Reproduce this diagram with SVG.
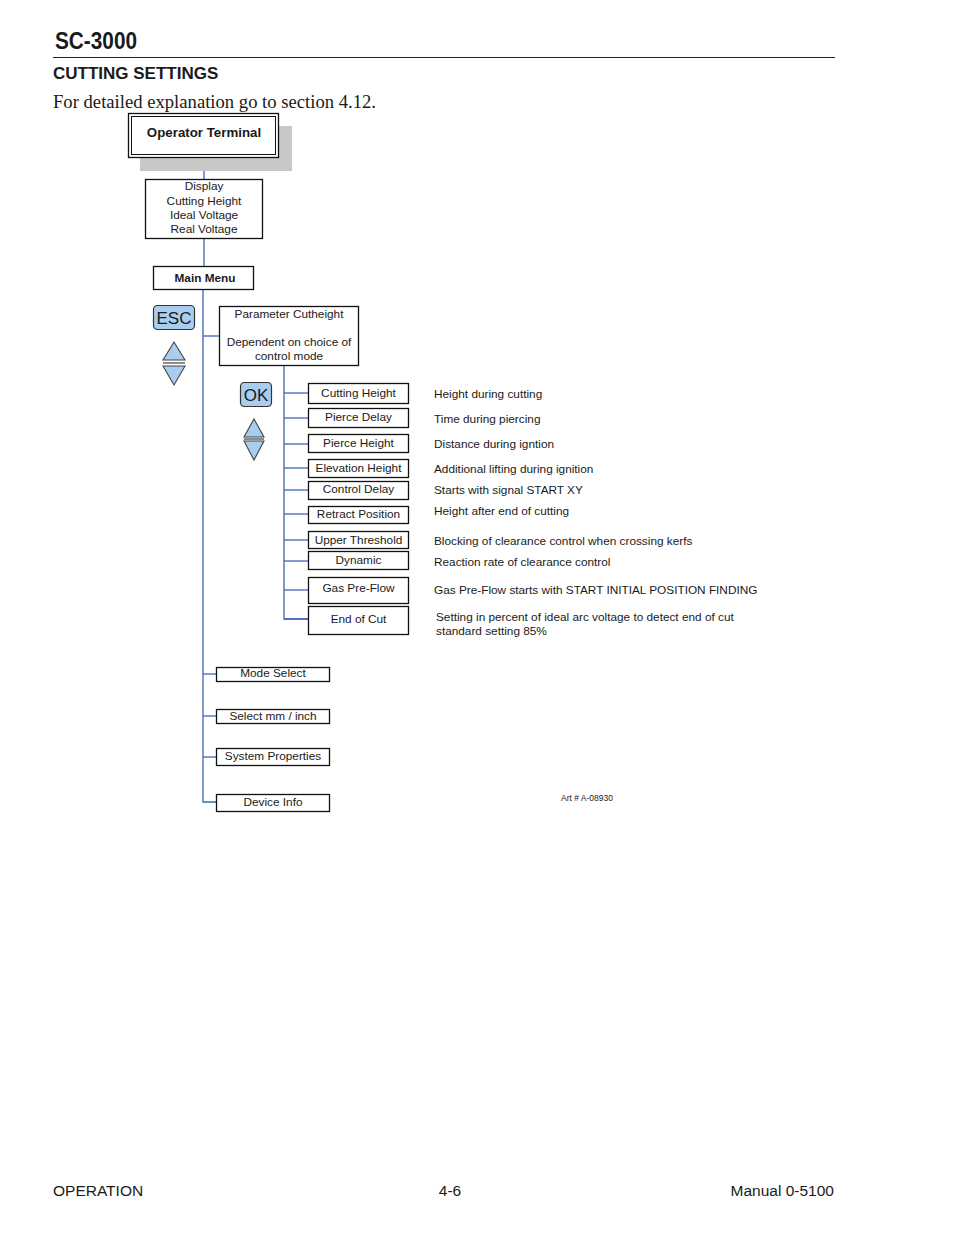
<svg xmlns="http://www.w3.org/2000/svg" width="954" height="1235" viewBox="0 0 954 1235">
<style>
text{font-family:"Liberation Sans",Arial,sans-serif;fill:#1a1a1a}
.box{fill:#fff;stroke:#111;stroke-width:1.3}
.t11{font-size:11.8px}
.c{text-anchor:middle}
.desc{font-size:11.8px}
.conn{stroke:#3d64b5;stroke-width:1.3;fill:none}
.btn{fill:#a9cdef;stroke:#333;stroke-width:1.2}
.tri{fill:#a9cdef;stroke:#444;stroke-width:1.1}
</style>
<rect width="954" height="1235" fill="#fff"/>
<!-- header -->
<text x="55" y="49" font-size="23" font-weight="bold" textLength="82" lengthAdjust="spacingAndGlyphs">SC-3000</text>
<line x1="53" y1="57.5" x2="835" y2="57.5" stroke="#222" stroke-width="1"/>
<text x="53" y="79" font-size="17" font-weight="bold">CUTTING SETTINGS</text>
<text x="53" y="108" font-size="18" style="font-family:'Liberation Serif','Times New Roman',serif" textLength="323" lengthAdjust="spacingAndGlyphs">For detailed explanation go to section 4.12.</text>

<g id="connectors">
<line class="conn" x1="204" y1="157" x2="204" y2="179"/>
<line class="conn" x1="204" y1="238" x2="204" y2="266"/>
<polyline class="conn" points="203,290 203,802 216,802"/>
<line class="conn" x1="203" y1="336" x2="219" y2="336"/>
<line class="conn" x1="203" y1="674" x2="216" y2="674"/>
<line class="conn" x1="203" y1="716" x2="216" y2="716"/>
<line class="conn" x1="203" y1="757" x2="216" y2="757"/>
<polyline class="conn" points="284,365 284,619 308,619" />
<line class="conn" x1="284" y1="393" x2="308" y2="393"/>
<line class="conn" x1="284" y1="418" x2="308" y2="418"/>
<line class="conn" x1="284" y1="444" x2="308" y2="444"/>
<line class="conn" x1="284" y1="468" x2="308" y2="468"/>
<line class="conn" x1="284" y1="490" x2="308" y2="490"/>
<line class="conn" x1="284" y1="514" x2="308" y2="514"/>
<line class="conn" x1="284" y1="540" x2="308" y2="540" stroke-width="2"/>
<line class="conn" x1="284" y1="561" x2="308" y2="561"/>
<line class="conn" x1="284" y1="590" x2="308" y2="590"/>
<line class="conn" x1="284" y1="619" x2="308" y2="619" stroke-width="2"/>
</g>

<g id="operator-terminal">
<rect x="140" y="126" width="152" height="45" fill="#c8c8c8"/>
<rect x="128.5" y="113.5" width="150" height="44" class="box"/>
<rect x="131.5" y="116.5" width="144" height="38" fill="none" stroke="#111" stroke-width="1"/>
<text x="204" y="137" class="c" font-size="13.3" font-weight="bold">Operator Terminal</text>
</g>

<g id="display">
<rect x="145.5" y="179.5" width="117" height="59" class="box"/>
<text x="204" y="190" class="c t11">Display</text>
<text x="204" y="205" class="c t11">Cutting Height</text>
<text x="204" y="219" class="c t11">Ideal Voltage</text>
<text x="204" y="233" class="c t11">Real Voltage</text>
</g>

<g id="main-menu">
<rect x="153.5" y="266.5" width="100" height="23" class="box" stroke-width="2"/>
<text x="205" y="282" class="c t11" font-weight="bold">Main Menu</text>
</g>

<g id="esc-keys">
<rect x="153.5" y="305.5" width="41" height="24" rx="4" class="btn"/>
<text x="174" y="324" class="c" font-size="17">ESC</text>
<polygon points="174,342 185,360 163,360" class="tri"/>
<line x1="163" y1="363" x2="185" y2="363" stroke="#666" stroke-width="1.5"/>
<polygon points="163,366 185,366 174,385" class="tri"/>
</g>

<g id="parameter-cutheight">
<rect x="219.5" y="306.5" width="139" height="59" class="box"/>
<text x="289" y="318" class="c t11">Parameter Cutheight</text>
<text x="289" y="346" class="c t11">Dependent on choice of</text>
<text x="289" y="360" class="c t11">control mode</text>
</g>

<g id="ok-keys">
<rect x="240.5" y="382.5" width="31" height="24" rx="4" class="btn"/>
<text x="256" y="401" class="c" font-size="17">OK</text>
<polygon points="254,419 264,437 244,437" class="tri"/>
<line x1="244" y1="439" x2="264" y2="439" stroke="#666" stroke-width="1.5"/>
<polygon points="244,441 264,441 254,460" class="tri"/>
</g>

<g id="cutting-height"><rect x="308.5" y="383.5" width="100" height="20" class="box"/><text x="358.5" y="397" class="c t11">Cutting Height</text></g>
<g id="pierce-delay"><rect x="308.5" y="408.5" width="100" height="19" class="box"/><text x="358.5" y="421" class="c t11">Pierce Delay</text></g>
<g id="pierce-height"><rect x="308.5" y="434.5" width="100" height="18" class="box"/><text x="358.5" y="447" class="c t11">Pierce Height</text></g>
<g id="elevation-height"><rect x="308.5" y="459.5" width="100" height="18" class="box"/><text x="358.5" y="472" class="c t11">Elevation Height</text></g>
<g id="control-delay"><rect x="308.5" y="481.5" width="100" height="18" class="box"/><text x="358.5" y="493" class="c t11">Control Delay</text></g>
<g id="retract-position"><rect x="308.5" y="506.5" width="100" height="17" class="box"/><text x="358.5" y="518" class="c t11">Retract Position</text></g>
<g id="upper-threshold"><rect x="308.5" y="531.5" width="100" height="17" class="box"/><text x="358.5" y="544" class="c t11">Upper Threshold</text></g>
<g id="dynamic"><rect x="308.5" y="551.5" width="100" height="18" class="box"/><text x="358.5" y="564" class="c t11">Dynamic</text></g>
<g id="gas-pre-flow"><rect x="308.5" y="577.5" width="100" height="26" class="box"/><text x="358.5" y="592" class="c t11">Gas Pre-Flow</text></g>
<g id="end-of-cut"><rect x="308.5" y="606.5" width="100" height="28" class="box"/><text x="358.5" y="623" class="c t11">End of Cut</text></g>

<g id="descriptions">
<text x="434" y="398" class="desc">Height during cutting</text>
<text x="434" y="423" class="desc">Time during piercing</text>
<text x="434" y="448" class="desc">Distance during igntion</text>
<text x="434" y="473" class="desc">Additional lifting during ignition</text>
<text x="434" y="494" class="desc">Starts with signal START XY</text>
<text x="434" y="515" class="desc">Height after end of cutting</text>
<text x="434" y="545" class="desc">Blocking of clearance control when crossing kerfs</text>
<text x="434" y="566" class="desc">Reaction rate of clearance control</text>
<text x="434" y="594" class="desc">Gas Pre-Flow starts with START INITIAL POSITION FINDING</text>
<text x="436" y="621" class="desc">Setting in percent of ideal arc voltage to detect end of cut</text>
<text x="436" y="635" class="desc">standard setting 85%</text>
</g>

<g id="mode-select"><rect x="216.5" y="667.5" width="113" height="14" class="box"/><text x="273" y="677" class="c t11">Mode Select</text></g>
<g id="select-mm-inch"><rect x="216.5" y="709.5" width="113" height="14" class="box"/><text x="273" y="720" class="c t11">Select mm / inch</text></g>
<g id="system-properties"><rect x="216.5" y="748.5" width="113" height="17" class="box"/><text x="273" y="760" class="c t11">System Properties</text></g>
<g id="device-info"><rect x="216.5" y="794.5" width="113" height="17" class="box"/><text x="273" y="806" class="c t11">Device Info</text></g>

<text x="561" y="801" font-size="8.5">Art # A-08930</text>

<text x="53" y="1196" font-size="15.5">OPERATION</text>
<text x="450" y="1196" font-size="15.5" class="c">4-6</text>
<text x="834" y="1196" font-size="15.5" text-anchor="end">Manual 0-5100</text>
</svg>
